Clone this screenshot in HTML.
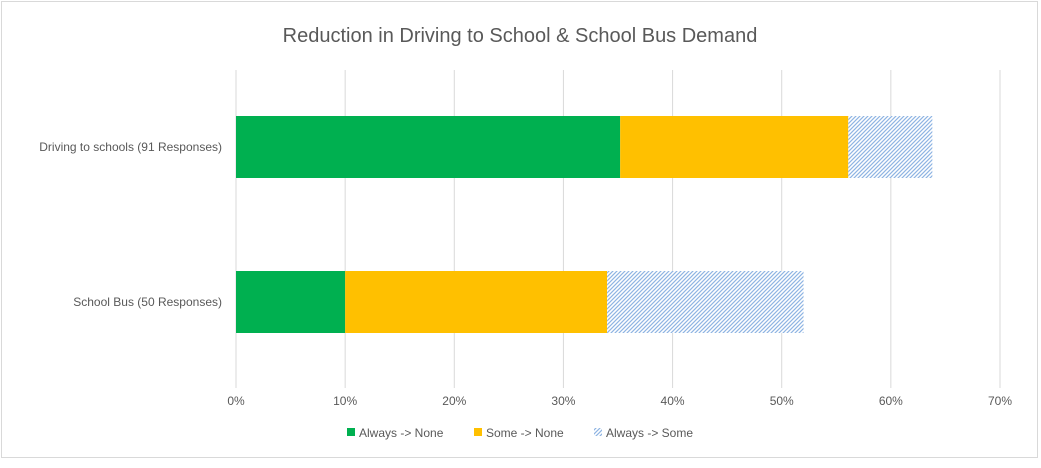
<!DOCTYPE html>
<html><head><meta charset="utf-8"><style>
body{margin:0;background:#fff;font-family:"Liberation Sans",sans-serif;}
svg text{font-family:"Liberation Sans",sans-serif;fill:#595959;}
</style></head><body>
<svg width="1041" height="463" xmlns="http://www.w3.org/2000/svg">
<defs>
<pattern id="hatch" width="4" height="4" patternUnits="userSpaceOnUse">
<rect width="4" height="4" fill="#fff"/>
<path d="M-1,1 l2,-2 M0,4 l4,-4 M3,5 l2,-2" stroke="#8EB4E3" stroke-width="1.2"/>
</pattern>
</defs>
<rect x="1.5" y="1.5" width="1036" height="456" fill="#fff" stroke="#d9d9d9"/>
<text x="520" y="42" font-size="20" text-anchor="middle">Reduction in Driving to School &amp; School Bus Demand</text>
<g id="grid"></g>
<g id="bars"></g>
<g id="legend"></g>
</svg>
<script>
const categories=["Driving to schools (91 Responses)","School Bus (50 Responses)"];
const alwaysNone=[35.2,10];
const someNone=[20.9,24];
const alwaysSome=[7.7,18];
const ticks=[0,10,20,30,40,50,60,70];
const NS="http://www.w3.org/2000/svg";
const x0=236,x1=1000,xmax=70;
const xs=v=>x0+(x1-x0)*v/xmax;
const barY=[116,271],barH=62;
function mk(t,a,p){const e=document.createElementNS(NS,t);for(const k in a)e.setAttribute(k,a[k]);p.appendChild(e);return e;}
const grid=document.getElementById('grid');
ticks.forEach(t=>{
 const l=mk('line',{x1:xs(t),x2:xs(t),y1:70,y2:388,stroke:'#d9d9d9'},grid);
 
 
 const tx=mk('text',{x:xs(t),y:405,'font-size':12,'text-anchor':'middle'},grid);
 tx.textContent=t+'%';
 
 
});
const bars=document.getElementById('bars');
const series=[[alwaysNone,'#00B050','always-none'],[someNone,'#FFC000','some-none'],[alwaysSome,'url(#hatch)','always-some']];
categories.forEach((c,i)=>{
 let acc=0;
 series.forEach(([arr,fill,nm])=>{
  const r=mk('rect',{x:xs(acc),y:barY[i],width:xs(acc+arr[i])-xs(acc),height:barH,fill:fill},bars);
  
  
  acc+=arr[i];
 });
 const t=mk('text',{x:222,y:barY[i]+barH/2+4,'font-size':12,'text-anchor':'end'},bars);
 t.textContent=c;
 
 
});
const lg=document.getElementById('legend');
const items=[['Always -> None','#00B050',347],['Some -> None','#FFC000',474],['Always -> Some','url(#hatch)',594]];
items.forEach(([n,f,x])=>{
 const g=mk('g',{},lg);
 
 
 mk('rect',{x:x,y:428,width:8,height:8,fill:f},g);
 const t=mk('text',{x:x+12,y:437,'font-size':12},g);
 t.textContent=n;
});
</script>
</body></html>
